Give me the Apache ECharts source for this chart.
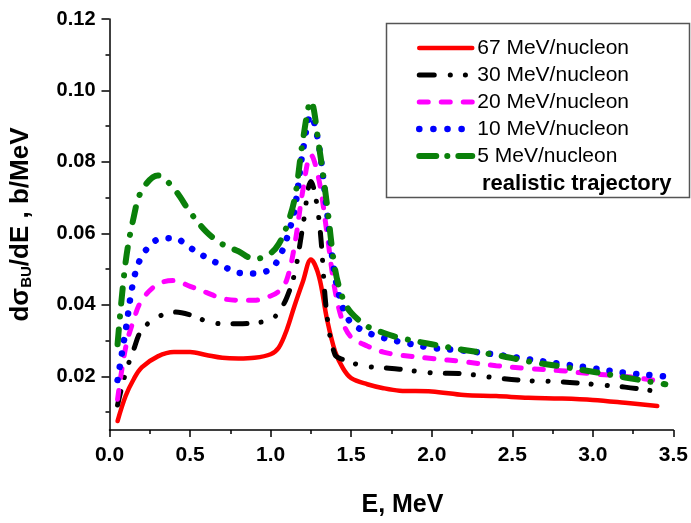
<!DOCTYPE html>
<html>
<head>
<meta charset="utf-8">
<script src="https://cdn.jsdelivr.net/npm/echarts@6/dist/echarts.min.js"></script>
<style>
  html, body { margin: 0; padding: 0; background: #fff; }
  #chart { width: 691px; height: 523px; }
</style>
</head>
<body>
<div id="chart"></div>
<script>
// energy grid, MeV
var energy = [0.05, 0.1, 0.15, 0.2, 0.3, 0.4, 0.5, 0.6, 0.7, 0.8, 0.9, 1.0,
  1.05, 1.1, 1.15, 1.2, 1.25, 1.3, 1.35, 1.4, 1.45, 1.5,
  1.6, 1.7, 1.8, 2.0, 2.2, 2.4, 2.6, 2.8, 3.0, 3.2, 3.4, 3.45];

// dsigma_BU/dE, b/MeV
var mev67 = [0.0075, 0.0145, 0.0192, 0.0225, 0.0256, 0.0268, 0.0268, 0.026, 0.0252, 0.025, 0.0252, 0.0262,
  0.028, 0.033, 0.040, 0.0465, 0.0527, 0.048, 0.036, 0.027, 0.0222, 0.0195,
  0.0178, 0.0167, 0.016, 0.0158, 0.0148, 0.0145, 0.014, 0.0138, 0.0134, 0.0126, 0.0117, null];
var mev30 = [0.012, 0.021, 0.0275, 0.033, 0.0366, 0.038, 0.0372, 0.0355, 0.0347, 0.0347, 0.035, 0.0358,
  0.038, 0.042, 0.049, 0.062, 0.0745, 0.064, 0.037, 0.026, 0.0247, 0.0238,
  0.0228, 0.0224, 0.022, 0.021, 0.0207, 0.0196, 0.0188, 0.0185, 0.0178, 0.017, 0.0158, 0.0155];
var mev20 = [0.0136, 0.028, 0.0358, 0.0413, 0.0458, 0.0468, 0.0452, 0.0435, 0.0418, 0.0413, 0.0413, 0.0425,
  0.0438, 0.047, 0.057, 0.072, 0.082, 0.075, 0.06, 0.044, 0.035, 0.031,
  0.0285, 0.0268, 0.026, 0.025, 0.0241, 0.023, 0.0222, 0.0216, 0.0207, 0.02, 0.0188, 0.0186];
var mev10 = [0.019, 0.0328, 0.047, 0.0535, 0.0583, 0.0587, 0.056, 0.0533, 0.051, 0.049, 0.0488, 0.050,
  0.053, 0.0585, 0.067, 0.083, 0.093, 0.0845, 0.066, 0.048, 0.039, 0.035,
  0.0323, 0.0308, 0.0297, 0.028, 0.0272, 0.0261, 0.0248, 0.0235, 0.0223, 0.021, 0.0202, 0.020];
var mev5 = [0.029, 0.052, 0.0645, 0.072, 0.0762, 0.0725, 0.066, 0.0605, 0.057, 0.055, 0.0528, 0.0545,
  0.057, 0.062, 0.0699, 0.086, 0.097, 0.0845, 0.068, 0.050, 0.0416, 0.0378,
  0.034, 0.0322, 0.0308, 0.029, 0.0274, 0.026, 0.0242, 0.0228, 0.0213, 0.0197, 0.0182, 0.0178];

var names = ['67 MeV/nucleon', '30 MeV/nucleon', '20 MeV/nucleon', '10 MeV/nucleon', '5 MeV/nucleon'];
var yLabels = [0.02, 0.04, 0.06, 0.08, 0.10, 0.12];
var yMinor = [0.01, 0.03, 0.05, 0.07, 0.09, 0.11];

function pairs(vals) {
  return energy.map(function (e, i) { return [e, vals[i]]; });
}

var styles = [
  { color: '#ff0000', width: 4.5, type: 'solid' },
  { color: '#000000', width: 5, type: [14, 14, 0.1, 16, 0.1, 15] },
  { color: '#ff00ff', width: 5, type: [9, 13] },
  { color: '#0000ff', width: 6.5, type: [0.1, 13.3] },
  { color: '#0a800a', width: 6, type: [15, 13, 0.1, 13] }
];
var legendDash = [
  'solid',
  [15, 16, 0.1, 15, 0.1, 30],
  [9, 13],
  [0.1, 14],
  [17, 11, 0.1, 11]
];
var allVals = [mev67, mev30, mev20, mev10, mev5];

var myChart = echarts.init(document.getElementById('chart'));
var font = 'Liberation Sans, Arial, sans-serif';

var option = {
  animation: false,
  backgroundColor: '#fff',
  grid: { left: 109, right: 17, top: 19, bottom: 90 },
  xAxis: {
    type: 'value', min: 0, max: 3.5, interval: 0.5,
    name: 'E, MeV', nameLocation: 'middle', nameGap: 63,
    nameTextStyle: { fontSize: 25, fontWeight: 'bold', color: '#000', fontFamily: font, padding: [0, 0, 0, 22] },
    axisLine: { lineStyle: { color: '#000', width: 1.5 } },
    axisTick: { inside: false, length: 7, lineStyle: { color: '#000', width: 1.5 } },
    minorTick: { show: true, splitNumber: 2, length: 4, lineStyle: { color: '#000', width: 1.5 } },
    splitLine: { show: false },
    axisLabel: { fontSize: 21, fontWeight: 'bold', color: '#000', fontFamily: font, margin: 15,
      formatter: function (v) { return v.toFixed(1); } }
  },
  yAxis: [{
    type: 'value', min: 0.005, max: 0.12,
    name: 'dσ{sub|BU}/dE , b/MeV', nameLocation: 'middle', nameGap: 75, nameRotate: 90,
    nameTextStyle: {
      fontSize: 26, fontWeight: 'bold', color: '#000', fontFamily: font,
      rich: {
        sub: { fontSize: 15, fontWeight: 'bold', color: '#000', fontFamily: font, verticalAlign: 'bottom', padding: [12, 0, 0, 0] }
      }
    },
    axisLine: { show: true, lineStyle: { color: '#000', width: 1.5 } },
    axisTick: { show: true, length: 8, customValues: yLabels, lineStyle: { color: '#000', width: 1.5 } },
    splitLine: { show: false },
    axisLabel: { fontSize: 20, fontWeight: 'bold', color: '#000', fontFamily: font, margin: 14,
      customValues: yLabels, formatter: function (v) { return v.toFixed(2); } }
  }, {
    type: 'value', min: 0.005, max: 0.12, position: 'left',
    axisLine: { show: false },
    axisTick: { show: true, length: 4, customValues: yMinor, lineStyle: { color: '#000', width: 1.5 } },
    axisLabel: { show: false },
    splitLine: { show: false }
  }],
  legend: {
    orient: 'vertical', left: 416, top: 37, itemGap: 5, padding: 0,
    itemWidth: 53, itemHeight: 12,
    itemStyle: { opacity: 0 },
    textStyle: { fontSize: 21, color: '#000', fontFamily: font, lineHeight: 22 },
    data: names.map(function (n, i) {
      return { name: n, lineStyle: { width: styles[i].width, type: legendDash[i], cap: 'round' } };
    })
  },
  graphic: [
    { type: 'rect', left: 384, top: 21, z: 0,
      shape: { width: 303, height: 174 },
      style: { fill: 'none', stroke: '#555', lineWidth: 1.5 } },
    { type: 'text', left: 482, top: 173,
      style: { text: 'realistic trajectory', font: 'bold 22px ' + font, fill: '#000' } }
  ],
  series: names.map(function (n, i) {
    return {
      name: n, type: 'line', yAxisIndex: 0,
      smooth: 0.35, symbol: 'none', showSymbol: false,
      lineStyle: { color: styles[i].color, width: styles[i].width, type: styles[i].type, cap: 'round' },
      itemStyle: { color: styles[i].color },
      data: pairs(allVals[i])
    };
  })
};

myChart.setOption(option);
</script>
</body>
</html>
